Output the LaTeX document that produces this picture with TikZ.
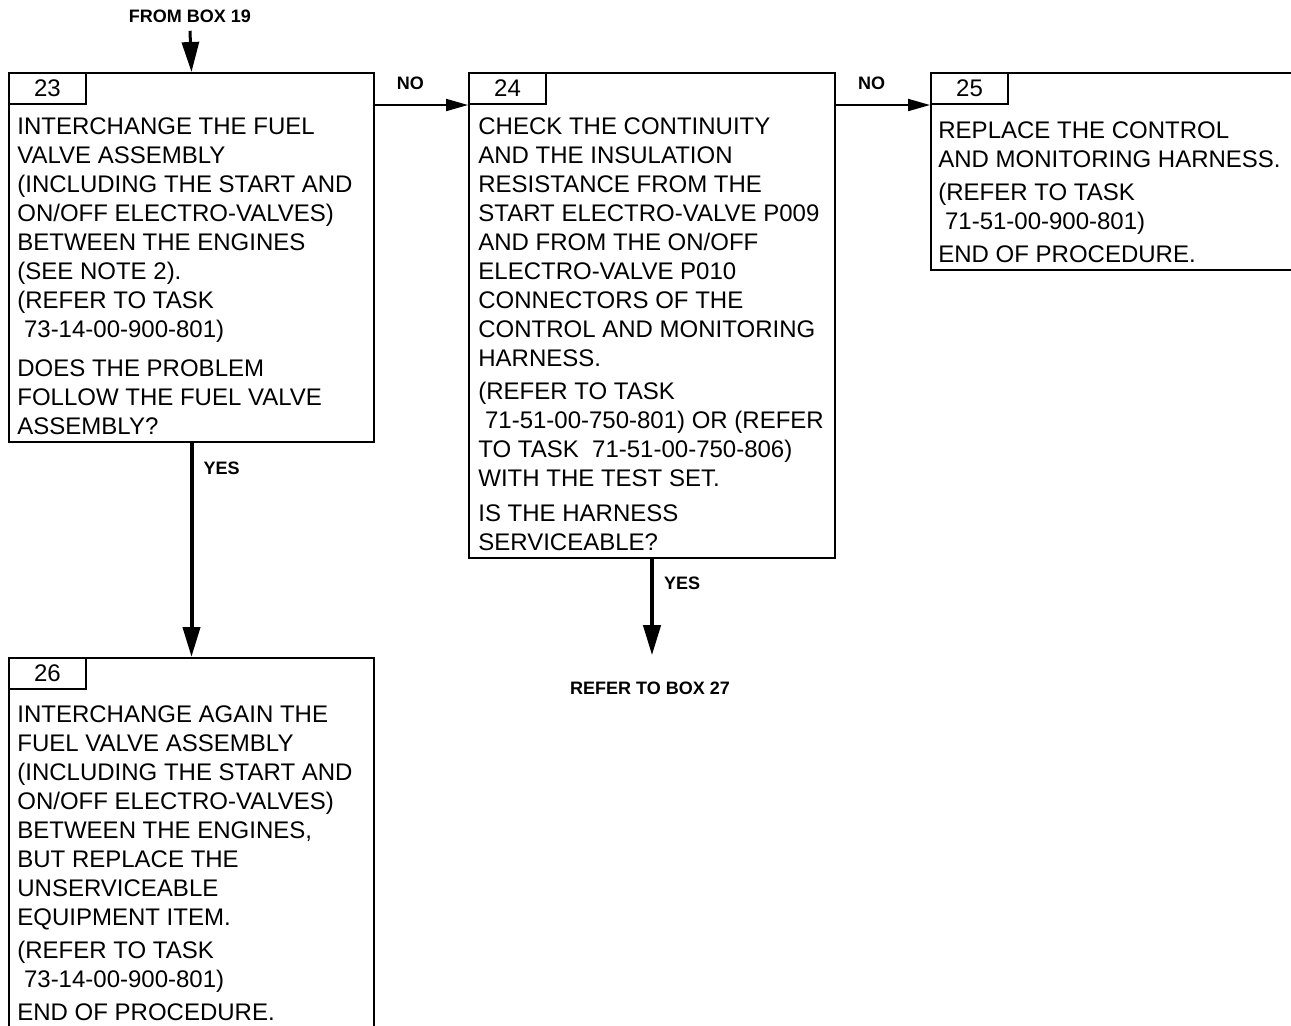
\documentclass[tikz,border=0pt]{standalone}
\usepackage{fontspec}
\setmainfont{Liberation Sans}
\usetikzlibrary{positioning, arrows.meta}

\begin{document}
\begin{tikzpicture}[x=0.5pt, y=-0.5pt,
    box/.style={draw, line width=1pt, anchor=north west, inner sep=0pt},
    tab/.style={draw, line width=1pt, anchor=north west, inner sep=0pt,
        minimum width=38.5pt, minimum height=15.5pt, font=\fontsize{12}{13}\selectfont},
    txt/.style={anchor=north west, align=left, inner sep=0pt, font=\fontsize{12}{14.5}\selectfont},
    lbl/.style={inner sep=0pt, font=\bfseries\fontsize{9}{10}\selectfont},
    noarrow/.style={line width=1pt, -{Triangle[length=11pt, width=6pt]}},
    yesarrow/.style={line width=2pt, -{Triangle[length=15pt, width=8.5pt]}}]
    \useasboundingbox (0,0) rectangle (1291,1025);
    \clip (0,0) rectangle (1291,1025);

    % Boxes
    \node[box, minimum width=182.5pt, minimum height=184.5pt] (b23) at (8,72) {};
    \node[box, minimum width=183pt, minimum height=242.5pt] (b24) at (468,72) {};
    \node[box, minimum width=200pt, minimum height=98.5pt] (b25) at (930,72) {};
    \node[box, minimum width=182.5pt, minimum height=200pt] (b26) at (8,657) {};

    % Box numbers
    \node[tab] (t23) at (b23.north west) {23};
    \node[tab] (t24) at (b24.north west) {24};
    \node[tab] (t25) at (b25.north west) {25};
    \node[tab] (t26) at (b26.north west) {26};

    % Box texts
    \node[txt] (x23) at (17,117) {INTERCHANGE THE FUEL\\VALVE ASSEMBLY\\(INCLUDING THE START AND\\
        ON/OFF ELECTRO-VALVES)\\BETWEEN THE ENGINES\\(SEE NOTE 2).\\(REFER TO TASK\\
        \ 73-14-00-900-801)\\[5pt]DOES THE PROBLEM\\FOLLOW THE FUEL VALVE\\ASSEMBLY?};
    \node[txt] (x24) at (478,117) {CHECK THE CONTINUITY\\AND THE INSULATION\\RESISTANCE FROM THE\\
        START ELECTRO-VALVE P009\\AND FROM THE ON/OFF\\ELECTRO-VALVE P010\\CONNECTORS OF THE\\
        CONTROL AND MONITORING\\HARNESS.\\[2pt](REFER TO TASK\\\ 71-51-00-750-801) OR (REFER\\
        TO TASK\ \ 71-51-00-750-806)\\WITH THE TEST SET.\\[3pt]IS THE HARNESS\\SERVICEABLE?};
    \node[txt] (x25) at (938,121) {REPLACE THE CONTROL\\AND MONITORING HARNESS.\\[2pt]
        (REFER TO TASK\\\ 71-51-00-900-801)\\[2pt]END OF PROCEDURE.};
    \node[txt] (x26) at (17,705) {INTERCHANGE AGAIN THE\\FUEL VALVE ASSEMBLY\\
        (INCLUDING THE START AND\\ON/OFF ELECTRO-VALVES)\\BETWEEN THE ENGINES,\\
        BUT REPLACE THE\\UNSERVICEABLE\\EQUIPMENT ITEM.\\[2pt](REFER TO TASK\\
        \ 73-14-00-900-801)\\[2pt]END OF PROCEDURE.};

    % Outside references
    \node[lbl] (from19) at (190,16) {FROM BOX 19};
    \node[lbl] (ref27) at (650,688) {REFER TO BOX 27};

    % Connectors
    \draw[line width=1.5pt, -{Triangle[length=15pt, width=8.5pt]}] ([yshift=-4pt]from19.south) -- (b23.north);
    \draw[noarrow] (b23.east |- t24.south west) -- node[lbl, pos=0.38, above=7pt] (no1) {NO} (t24.south west);
    \draw[noarrow] (b24.east |- t25.south west) -- node[lbl, pos=0.38, above=7pt] (no2) {NO} (t25.south west);
    \draw[yesarrow] (b23.south) -- node[lbl, pos=0.12, right=5pt] (yes1) {YES} (b26.north);
    \draw[yesarrow, shorten >=13pt] (b24.south) -- node[lbl, pos=0.2, right=5pt] (yes2) {YES} (b24.south |- ref27.north);
\end{tikzpicture}
\end{document}
